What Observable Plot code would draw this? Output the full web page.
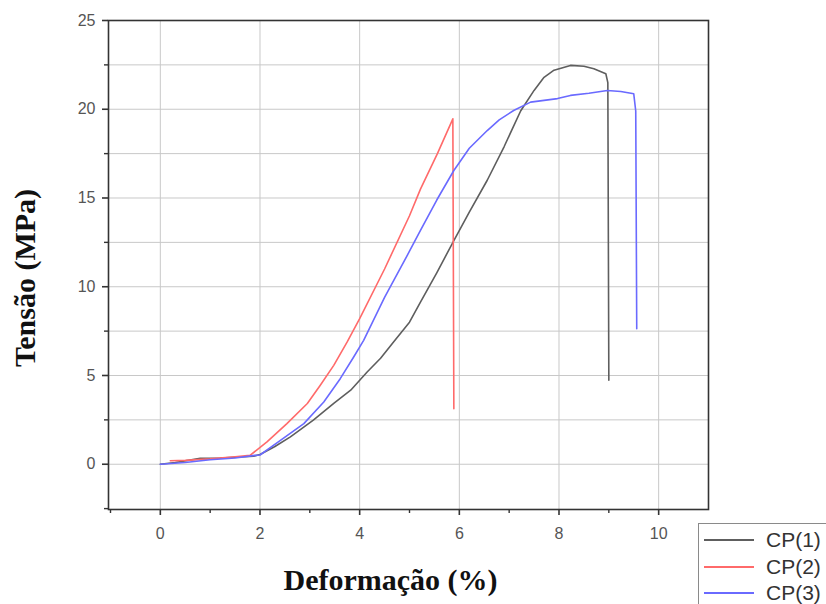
<!DOCTYPE html>
<html>
<head>
<meta charset="utf-8">
<script src="https://cdn.jsdelivr.net/npm/d3@7"></script>
<script src="https://cdn.jsdelivr.net/npm/@observablehq/plot@0.6"></script>
<style>
  html, body { margin: 0; padding: 0; background: #fff; overflow: hidden; width: 826px; height: 604px; }
  #wrap { position: relative; width: 826px; height: 604px; }
  #legend { position: absolute; left: 698px; top: 523px; width: 150px; height: 100px;
    border: 1px solid #8a8a8a; background: #fff; font-family: "Liberation Sans", Arial, sans-serif;
    font-size: 21px; color: #333; }
  .row { position: absolute; left: 0; height: 26px; display: flex; align-items: center; }
  .sw { width: 50px; height: 2px; margin-left: 5px; margin-right: 12px; }
</style>
</head>
<body>
<div id="wrap"></div>
<script>
// Data
const seriesNames = ["CP(1)", "CP(2)", "CP(3)"];
const seriesColors = ["#5e5e5e", "#ff6a6a", "#6a6aff"];

const cp1X = [0, 0.3, 0.8, 1.2, 1.6, 1.87, 2.0, 2.3, 2.61, 3.07, 3.48, 3.82, 4.15, 4.42, 4.68, 5.0, 5.22, 5.55, 5.89, 6.2, 6.56, 6.9, 7.23, 7.5, 7.7, 7.9, 8.23, 8.5, 8.7, 8.94, 8.98, 9.0];
const cp1Y = [0, 0.1, 0.33, 0.35, 0.41, 0.45, 0.55, 1.0, 1.54, 2.48, 3.43, 4.17, 5.2, 5.97, 6.89, 8.0, 9.14, 10.8, 12.6, 14.2, 16.0, 17.9, 19.9, 21.06, 21.8, 22.2, 22.47, 22.42, 22.28, 22.0, 21.5, 4.73];

const cp2X = [0.2, 0.5, 1.0, 1.5, 1.8, 2.14, 2.54, 2.95, 3.21, 3.48, 3.75, 4.0, 4.5, 5.0, 5.22, 5.56, 5.87, 5.89];
const cp2Y = [0.2, 0.22, 0.3, 0.42, 0.5, 1.26, 2.29, 3.42, 4.45, 5.57, 6.89, 8.2, 11.0, 14.0, 15.5, 17.5, 19.46, 3.13];

const cp3X = [0, 0.5, 1.0, 1.5, 1.9, 2.0, 2.41, 2.88, 3.28, 3.61, 3.88, 4.08, 4.5, 5.0, 5.22, 5.55, 5.89, 6.2, 6.56, 6.8, 7.09, 7.43, 7.97, 8.23, 8.6, 8.97, 9.24, 9.5, 9.54, 9.56];
const cp3Y = [0, 0.1, 0.25, 0.35, 0.5, 0.52, 1.35, 2.29, 3.51, 4.82, 6.04, 6.98, 9.4, 12.0, 13.18, 14.9, 16.55, 17.8, 18.8, 19.4, 19.93, 20.4, 20.6, 20.78, 20.9, 21.06, 21.0, 20.87, 19.9, 7.64];

const xTicks = [0, 2, 4, 6, 8, 10];
const xMinorTicks = [-1, 1, 3, 5, 7, 9];
const yTicks = [0, 5, 10, 15, 20, 25];
const yMinorTicks = [-2.5, 2.5, 7.5, 12.5, 17.5, 22.5];
const yGrid = [0, 2.5, 5, 7.5, 10, 12.5, 15, 17.5, 20, 22.5];

const xLabel = "Deformação (%)";
const yLabel = "Tensão (MPa)";

// Build the table
const allX = [cp1X, cp2X, cp3X];
const allY = [cp1Y, cp2Y, cp3Y];
const rows = [];
seriesNames.forEach((s, i) => {
  allX[i].forEach((x, j) => rows.push({series: s, x, y: allY[i][j]}));
});

const labelFont = "Liberation Serif, Times New Roman, serif";

const chart = Plot.plot({
  width: 826,
  height: 604,
  marginLeft: 108,
  marginRight: 118,
  marginTop: 20,
  marginBottom: 95,
  style: {fontFamily: "Liberation Sans, Arial, sans-serif", fontSize: "16px", color: "#333", background: "#fff"},
  x: {domain: [-1.04, 11]},
  y: {domain: [-2.55, 25]},
  color: {domain: seriesNames, range: seriesColors},
  marks: [
    Plot.gridX(xTicks, {stroke: "#c8c8c8", strokeOpacity: 1, strokeWidth: 1}),
    Plot.gridY(yGrid, {stroke: "#c8c8c8", strokeOpacity: 1, strokeWidth: 1}),
    Plot.line(rows, {x: "x", y: "y", z: "series", stroke: "series", strokeWidth: 1.6, curve: "linear"}),
    Plot.frame({stroke: "#333", strokeWidth: 1.6}),
    Plot.axisX(xTicks, {tickSize: 6, tickPadding: 12, label: null, stroke: "#333", strokeWidth: 1.6, fill: "#555", fontSize: 16}),
    Plot.axisX(xMinorTicks, {tickSize: 4, text: null, label: null, stroke: "#333", strokeWidth: 1.4}),
    Plot.axisY(yTicks, {tickSize: 6, tickPadding: 7, label: null, stroke: "#333", strokeWidth: 1.6, fill: "#555", fontSize: 16}),
    Plot.axisY(yMinorTicks, {tickSize: 4, text: null, label: null, stroke: "#333", strokeWidth: 1.4}),
    Plot.text([yLabel], {frameAnchor: "left", textAnchor: "middle", dx: -83, dy: 13, rotate: -90, fontFamily: labelFont, fontWeight: "bold", fontSize: 30, fill: "#111"}),
    Plot.text([xLabel], {frameAnchor: "bottom", textAnchor: "middle", dx: -18, dy: 80, fontFamily: labelFont, fontWeight: "bold", fontSize: 30, fill: "#111"})
  ]
});

const wrap = document.getElementById("wrap");
wrap.appendChild(chart);

// Legend
const legend = document.createElement("div");
legend.id = "legend";
seriesNames.forEach((s, i) => {
  const row = document.createElement("div");
  row.className = "row";
  row.style.top = (3 + i * 26.5) + "px";
  const sw = document.createElement("div");
  sw.className = "sw";
  sw.style.background = seriesColors[i];
  const lab = document.createElement("span");
  lab.textContent = s;
  row.appendChild(sw);
  row.appendChild(lab);
  legend.appendChild(row);
});
wrap.appendChild(legend);
</script>
</body>
</html>
